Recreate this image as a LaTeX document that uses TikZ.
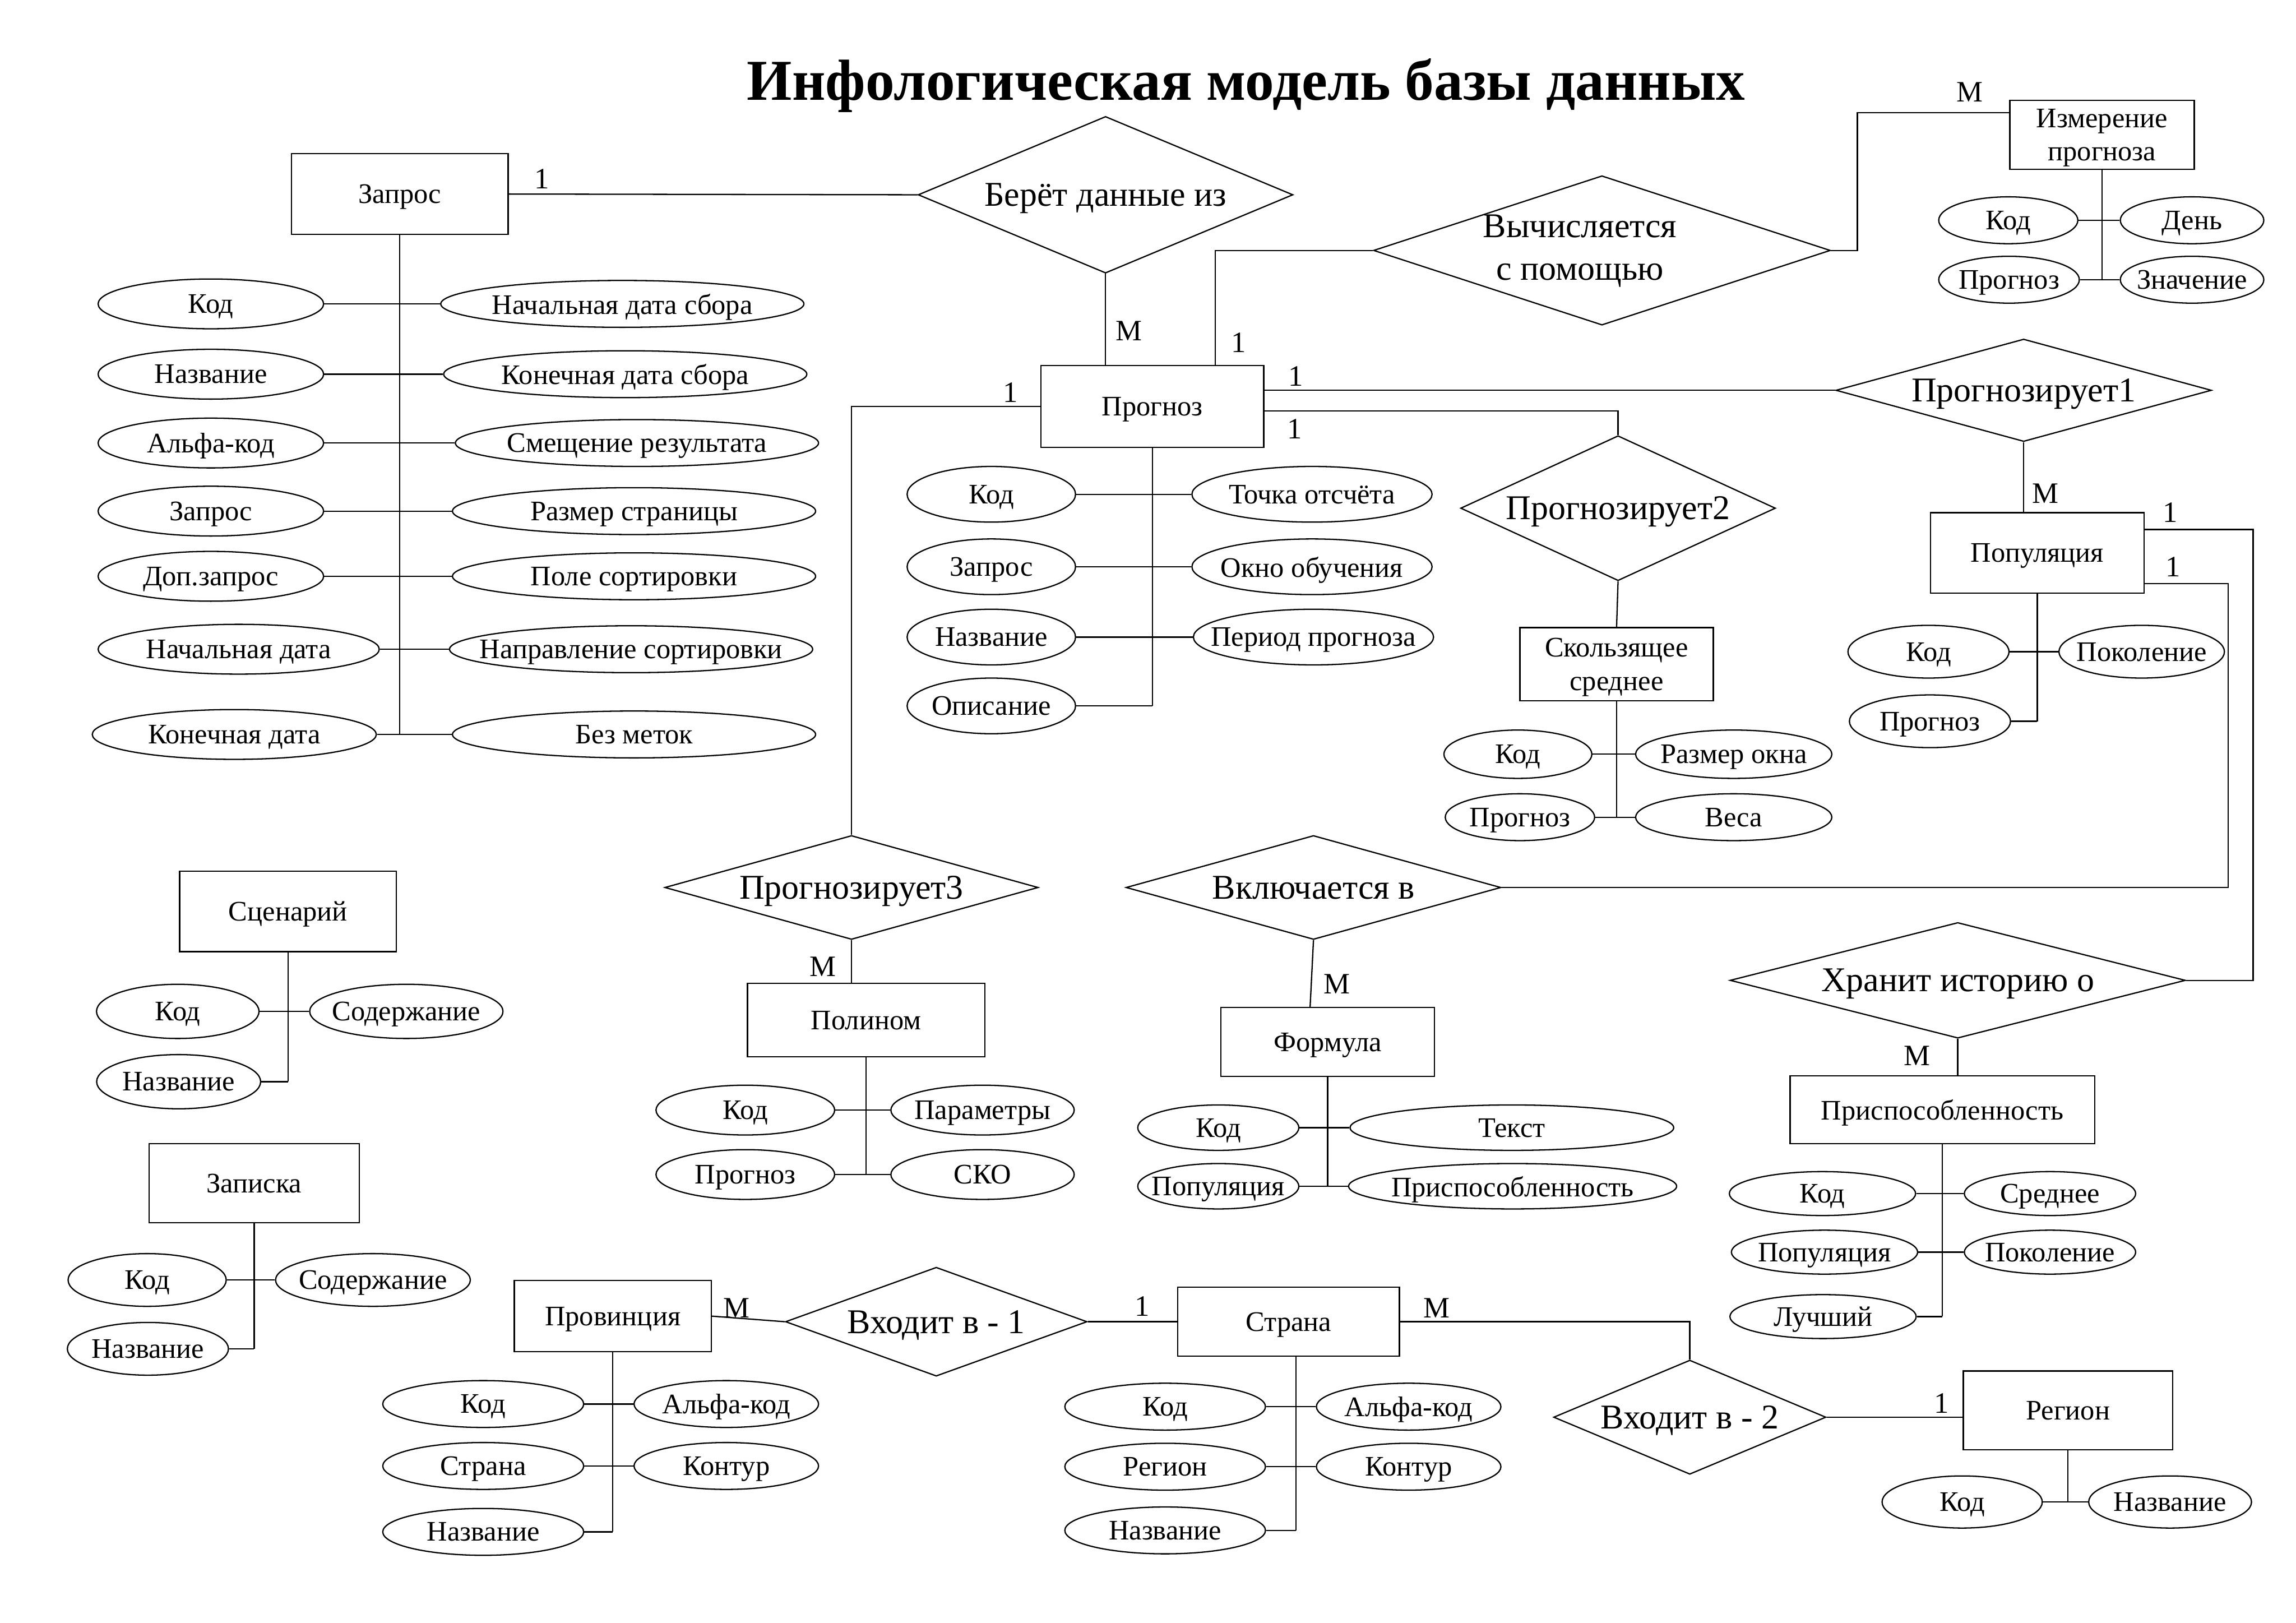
\documentclass[tikz,border=0pt]{standalone}
\usepackage{fontspec}
\setmainfont{Liberation Serif}
\usetikzlibrary{shapes.geometric,calc}
\newcommand\entbox[6]{\node[ent, minimum width=#4*0.2mm, minimum height=#5*0.2mm] (#1) at (#2,#3) {#6};}
\newcommand\attrib[6]{\node[att, minimum width=#4*0.4mm, minimum height=#5*0.4mm] (#1) at (#2,#3) {\makebox[0pt]{#6}};}
\newcommand\relship[6]{\node[rel, minimum width=#4*0.2mm, minimum height=#5*0.2mm] (#1) at (#2,#3) {\makebox[0pt]{#6}};}
\newcommand\cardlab[4]{\node[card] (#1) at (#2,#3) {#4};}
\begin{document}
\begin{tikzpicture}[x=0.2mm,y=-0.2mm,
  every node/.style={font=\fontsize{11}{13}\selectfont, text depth=0pt},
  ln/.style={line width=0.5pt},
  ent/.style={draw, rectangle, line width=0.5pt, inner sep=0pt, align=center},
  att/.style={draw, ellipse, line width=0.5pt, inner sep=0pt},
  rel/.style={draw, diamond, line width=0.5pt, inner sep=0pt, font=\fontsize{13.5}{16.5}\selectfont},
  card/.style={inner sep=0pt, font=\fontsize{11.5}{13}\selectfont}]
\fill[white] (0,0) rectangle (1568,1108);
\useasboundingbox (0,0) rectangle (1568,1108);

\node (title) at (851,54) {\fontsize{22.5}{26}\selectfont\bfseries Инфологическая модель базы данных};

% ---------- entities ----------
\entbox{zapros}{273}{132.5}{148}{55}{Запрос}
\entbox{prognoz}{787}{277.5}{152}{56}{Прогноз}
\entbox{izm}{1435.5}{92}{126}{47}{Измерение\\прогноза}
\entbox{pop}{1391.3}{377.6}{146}{55}{Популяция}
\entbox{skol}{1104}{453.6}{132}{50}{Скользящее\\среднее}
\entbox{polinom}{591.5}{696.5}{162}{50}{Полином}
\entbox{formula}{906.7}{711.5}{146}{47}{Формула}
\entbox{prisp}{1326.5}{757.8}{208}{46.5}{Приспособленность}
\entbox{scen}{196.7}{622.3}{148}{55}{Сценарий}
\entbox{zap}{173.6}{808}{143.5}{54}{Записка}
\entbox{prov}{418.5}{898.7}{134.5}{48.5}{Провинция}
\entbox{strana}{880}{902.5}{151.4}{47}{Страна}
\entbox{region}{1412.3}{963}{143}{53.7}{Регион}

% ---------- relationships ----------
\relship{berot}{755}{133}{256}{107}{Берёт данные из}
\node[rel, text depth=, minimum width=312*0.2mm, minimum height=102*0.2mm] (vych) at (1094,171) {\makebox[0pt]{\hspace*{-6mm}\begin{tabular}{@{}c@{}}Вычисляется\\с помощью\end{tabular}}};
\relship{pr1}{1382}{266.5}{256.5}{70}{Прогнозирует1}
\relship{pr2}{1105}{347}{215}{99}{Прогнозирует2}
\relship{pr3}{581.5}{606}{255}{71}{Прогнозирует3}
\relship{vkl}{897}{606}{256}{71}{Включается в}
\relship{hran}{1337}{669.4}{311}{79}{Хранит историю о}
\relship{vh1}{639.4}{902.5}{206}{74.4}{Входит в - 1}
\relship{vh2}{1154}{967.7}{186}{78}{Входит в - 2}

% ---------- attributes: Запрос ----------
\attrib{zk1}{144}{207.5}{77}{17}{Код}
\attrib{zk2}{144}{255.5}{77}{17}{Название}
\attrib{zk3}{144}{302.5}{77}{17}{Альфа-код}
\attrib{zk4}{144}{349}{77}{17}{Запрос}
\attrib{zk5}{144}{393.5}{77}{17}{Доп.запрос}
\attrib{zk6}{163}{443.3}{96}{17}{Начальная дата}
\attrib{zk7}{160}{501.5}{97}{17}{Конечная дата}
\attrib{zr1}{425}{207.5}{124}{16}{Начальная дата сбора}
\attrib{zr2}{427}{255.5}{124}{16}{Конечная дата сбора}
\attrib{zr3}{435}{302.5}{124}{16}{Смещение результата}
\attrib{zr4}{433}{349}{124}{16}{Размер страницы}
\attrib{zr5}{433}{393.5}{124}{16}{Поле сортировки}
\attrib{zr6}{431}{443.3}{124}{16}{Направление сортировки}
\attrib{zr7}{433}{501.5}{124}{16}{Без меток}

% ---------- attributes: Прогноз ----------
\attrib{pk1}{677}{337.5}{57.5}{19}{Код}
\attrib{pk2}{677}{387}{57.5}{19}{Запрос}
\attrib{pk3}{677}{435}{57.5}{19}{Название}
\attrib{pk4}{677}{482}{57.5}{19}{Описание}
\attrib{pv1}{896}{337.5}{82}{19}{Точка отсчёта}
\attrib{pv2}{896}{387}{82}{19}{Окно обучения}
\attrib{pv3}{897}{435}{82}{19}{Период прогноза}

% ---------- attributes: Измерение прогноза ----------
\attrib{iz1}{1371.5}{150.4}{47.5}{16}{Код}
\attrib{iz2}{1497}{150.4}{49}{16}{День}
\attrib{iz3}{1372}{191}{48}{16}{Прогноз}
\attrib{iz4}{1497}{191}{49}{16}{Значение}

% ---------- attributes: Популяция ----------
\attrib{po1}{1317}{445}{55}{18}{Код}
\attrib{po2}{1462.6}{445}{56.5}{18}{Поколение}
\attrib{po3}{1318}{492.5}{55}{18}{Прогноз}

% ---------- attributes: Скользящее среднее ----------
\attrib{sk1}{1036.6}{515}{50.5}{16.5}{Код}
\attrib{sk2}{1184}{515}{67}{16.5}{Размер окна}
\attrib{sk3}{1038}{558}{51}{16}{Прогноз}
\attrib{sk4}{1184}{558}{67}{16}{Веса}

% ---------- attributes: Полином ----------
\attrib{pl1}{509}{758}{61}{17}{Код}
\attrib{pl2}{671}{758}{62.6}{17}{Параметры}
\attrib{pl3}{509}{802}{61}{17}{Прогноз}
\attrib{pl4}{671}{802}{62.6}{17}{СКО}

% ---------- attributes: Формула ----------
\attrib{fo1}{832}{770}{55}{15.5}{Код}
\attrib{fo2}{1032.5}{770}{110.5}{15.5}{Текст}
\attrib{fo3}{832}{810}{55}{15.5}{Популяция}
\attrib{fo4}{1033}{810}{112}{15.5}{Приспособленность}

% ---------- attributes: Приспособленность ----------
\attrib{ps1}{1244.6}{815}{63.6}{15}{Код}
\attrib{ps2}{1400}{815}{58.5}{15}{Среднее}
\attrib{ps3}{1246}{855}{63.6}{15}{Популяция}
\attrib{ps4}{1400}{855}{58.5}{15}{Поколение}
\attrib{ps5}{1245}{899}{63.6}{15}{Лучший}

% ---------- attributes: Сценарий ----------
\attrib{sc1}{121.4}{690.6}{55.5}{18.5}{Код}
\attrib{sc2}{277.5}{690.6}{66}{18.5}{Содержание}
\attrib{sc3}{122}{738.6}{56}{18.5}{Название}

% ---------- attributes: Записка ----------
\attrib{zp1}{100.5}{874}{54}{18}{Код}
\attrib{zp2}{254.7}{874}{66.5}{18}{Содержание}
\attrib{zp3}{101}{921}{55}{18}{Название}

% ---------- attributes: Провинция ----------
\attrib{pv_1}{330}{958.7}{68.6}{16}{Код}
\attrib{pv_2}{496}{958.7}{63}{16}{Альфа-код}
\attrib{pv_3}{330}{1001}{68.6}{16}{Страна}
\attrib{pv_4}{496}{1001}{63}{16}{Контур}
\attrib{pv_5}{330}{1046}{68.6}{16}{Название}

% ---------- attributes: Страна ----------
\attrib{st1}{795.7}{960.5}{68.5}{16}{Код}
\attrib{st2}{962}{960.5}{63}{16}{Альфа-код}
\attrib{st3}{795.7}{1001.5}{68.5}{16}{Регион}
\attrib{st4}{962}{1001.5}{63}{16}{Контур}
\attrib{st5}{795.7}{1045}{68.5}{16}{Название}

% ---------- attributes: Регион ----------
\attrib{rg1}{1340}{1025.6}{54.7}{17.8}{Код}
\attrib{rg2}{1482}{1025.6}{55.6}{17.8}{Название}

% ---------- attribute connectors ----------
\draw[ln] (zapros.south) -- (zapros.south |- zk7.east);
\foreach \i in {1,...,7} {\draw[ln] (zk\i.east) -- (zr\i.west);}

\draw[ln] (prognoz.south) -- (prognoz.south |- pk4.east);
\foreach \i in {1,2,3} {\draw[ln] (pk\i.east) -- (pv\i.west);}
\draw[ln] (pk4.east) -- (prognoz.south |- pk4.east);

\draw[ln] (izm.south) -- (izm.south |- iz3.east);
\draw[ln] (iz1.east) -- (iz2.west);
\draw[ln] (iz3.east) -- (iz4.west);

\draw[ln] (pop.south) -- (pop.south |- po3.east);
\draw[ln] (po1.east) -- (po2.west);
\draw[ln] (po3.east) -- (pop.south |- po3.east);

\draw[ln] (skol.south) -- (skol.south |- sk3.east);
\draw[ln] (sk1.east) -- (sk2.west);
\draw[ln] (sk3.east) -- (sk4.west);

\draw[ln] (polinom.south) -- (polinom.south |- pl3.east);
\draw[ln] (pl1.east) -- (pl2.west);
\draw[ln] (pl3.east) -- (pl4.west);

\draw[ln] (formula.south) -- (formula.south |- fo3.east);
\draw[ln] (fo1.east) -- (fo2.west);
\draw[ln] (fo3.east) -- (fo4.west);

\draw[ln] (prisp.south) -- (prisp.south |- ps5.east);
\draw[ln] (ps1.east) -- (ps2.west);
\draw[ln] (ps3.east) -- (ps4.west);
\draw[ln] (ps5.east) -- (prisp.south |- ps5.east);

\draw[ln] (scen.south) -- (scen.south |- sc3.east);
\draw[ln] (sc1.east) -- (sc2.west);
\draw[ln] (sc3.east) -- (scen.south |- sc3.east);

\draw[ln] (zap.south) -- (zap.south |- zp3.east);
\draw[ln] (zp1.east) -- (zp2.west);
\draw[ln] (zp3.east) -- (zap.south |- zp3.east);

\draw[ln] (prov.south) -- (prov.south |- pv_5.east);
\draw[ln] (pv_1.east) -- (pv_2.west);
\draw[ln] (pv_3.east) -- (pv_4.west);
\draw[ln] (pv_5.east) -- (prov.south |- pv_5.east);

\draw[ln] ($(strana.south)+(5,0)$) coordinate (ssp) -- (ssp |- st5.east);
\draw[ln] (st1.east) -- (st2.west);
\draw[ln] (st3.east) -- (st4.west);
\draw[ln] (st5.east) -- (ssp |- st5.east);

\draw[ln] (region.south) -- (region.south |- rg1.east);
\draw[ln] (rg1.east) -- (rg2.west);

% ---------- relationship connectors ----------
\draw[ln] (zapros.east) -- (berot.west);
\draw[ln] (berot.south) -- (berot.south |- prognoz.north);
\draw[ln] ($(prognoz.north)+(43,0)$) |- (vych.west);
\draw[ln] (vych.east) -- ++(18,0) |- ($(izm.west)+(0,-15)$);
\draw[ln] (prognoz.east |- pr1.west) -- (pr1.west);
\draw[ln] ($(prognoz.east)+(0,3)$) -| (pr2.north);
\draw[ln] (prognoz.west) -| (pr3.north);
\draw[ln] (pr1.south) -- (pr1.south |- pop.north);
\draw[ln] (pr2.south) -- (skol.north);
\draw[ln] (pr3.south) -- (pr3.south |- polinom.north);
\draw[ln] (vkl.south) -- ($(formula.north)+(-12,0)$);
\draw[ln] (hran.south) -- (hran.south |- prisp.north);
\draw[ln] ($(pop.east)+(0,-16)$) -- ++(74,0) |- (hran.east);
\draw[ln] ($(pop.east)+(0,21)$) -- ++(57,0) |- (vkl.east);
\draw[ln] (prov.east) -- (vh1.west);
\draw[ln] (vh1.east) -- (strana.west);
\draw[ln] (strana.east) -| (vh2.north);
\draw[ln] (vh2.east) -- (vh2.east -| region.west);

% ---------- cardinalities ----------
\cardlab{c1}{370}{122}{1}
\cardlab{c2}{771}{226}{М}
\cardlab{c3}{846}{234}{1}
\cardlab{c4}{1345}{63}{М}
\cardlab{c5}{690}{268}{1}
\cardlab{c6}{885}{257}{1}
\cardlab{c7}{884}{293}{1}
\cardlab{c8}{1397}{337}{М}
\cardlab{c9}{1482}{350}{1}
\cardlab{c10}{1484}{387}{1}
\cardlab{c11}{562}{660}{М}
\cardlab{c12}{913}{672}{М}
\cardlab{c13}{1309}{721}{М}
\cardlab{c14}{503}{893}{М}
\cardlab{c15}{780}{892}{1}
\cardlab{c16}{981}{893}{М}
\cardlab{c17}{1326}{958}{1}
\end{tikzpicture}
\end{document}
